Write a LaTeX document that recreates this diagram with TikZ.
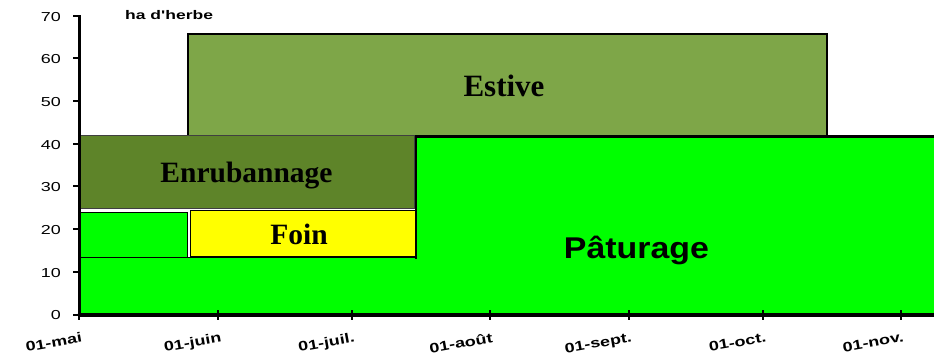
\documentclass[tikz,border=0pt]{standalone}
\usepackage{fontspec}
\setmainfont{Liberation Serif}
\newfontfamily\arialf{Liberation Sans}
\definecolor{estivec}{RGB}{126,166,72}
\definecolor{enrubc}{RGB}{94,132,41}
\definecolor{paturec}{RGB}{0,255,0}
\definecolor{foinc}{RGB}{255,255,0}
\tikzset{
  axislbl/.style={inner sep=0pt, font=\arialf\fontsize{13}{13}\selectfont},
  datelbl/.style={inner sep=0pt, anchor=north east, rotate=10, font=\arialf\bfseries\fontsize{13.5}{13.5}\selectfont},
  zonelbl/.style={inner sep=0pt, anchor=base, font=\bfseries\fontsize{29.5}{30}\selectfont},
  tickln/.style={line width=2pt}
}
\begin{document}
\begin{tikzpicture}[x=1pt,y=-1pt]
\useasboundingbox (0,0) rectangle (934,358);
% Paturage (green)
\fill[paturec] (79,314) -- (934,314) -- (934,136.5) -- (416,136.5) -- (416,257.5) -- (79,257.5) -- cycle;
% Estive
\filldraw[fill=estivec, draw=black, line width=2.5pt] (188,34) rectangle (827,136);
% Paturage outline
\draw[line width=1.5pt] (79,257.5) -- (416,257.5);
\draw[line width=2.5pt] (416,258.5) -- (416,136.5) -- (934,136.5);
% Enrubannage
\filldraw[fill=enrubc, draw=black!75, line width=0.8pt] (79,135.5) rectangle (414.5,208.5);
% small green block
\filldraw[fill=paturec, draw=black, line width=1pt] (79,212.5) rectangle (187,257);
% Foin
\filldraw[fill=foinc, draw=black, line width=1pt] (190,211) rectangle (415,256.5);
% axes
\draw[line width=3pt] (79,15.5) -- (79,316);
\draw[line width=3.5pt] (77.5,315) -- (934,315);
\foreach \v in {0,...,7}{
  \pgfmathsetmacro{\yy}{314.5-\v*42.71}
  \pgfmathtruncatemacro{\lab}{\v*10}
  \draw[tickln] (73,\yy) -- (79,\yy);
  \node[axislbl, anchor=east] (ylab\v) at (61,\yy+1) {\scalebox{1.38}[1]{\lab}};
}
\foreach \xx/\t [count=\i] in {79/01-mai,218.3/01-juin,351.7/01-juil.,489.6/01-août,628.9/01-sept.,763.4/01-oct.,900.7/01-nov.}{
  \draw[tickln] (\xx,310) -- (\xx,320);
  \node[datelbl] (xlab\i) at (\xx+2,332) {\scalebox{1.33}[1]{\t}};
}
\node[inner sep=0pt, anchor=base west, font=\arialf\bfseries\fontsize{12.5}{12.5}\selectfont] (unit) at (125,20) {\scalebox{1.4}[1]{ha d'herbe}};
% zone labels
\node[zonelbl, font=\bfseries\fontsize{31}{31}\selectfont] (estive) at (504,97) {Estive};
\node[zonelbl] (enrub) at (246.5,182.7) {Enrubannage};
\node[zonelbl] (foin) at (299,244) {Foin};
\node[inner sep=0pt, anchor=base, font=\arialf\bfseries\fontsize{30}{30}\selectfont] (pature) at (636.5,258) {\scalebox{1.13}[1]{Pâturage}};
\end{tikzpicture}
\end{document}
